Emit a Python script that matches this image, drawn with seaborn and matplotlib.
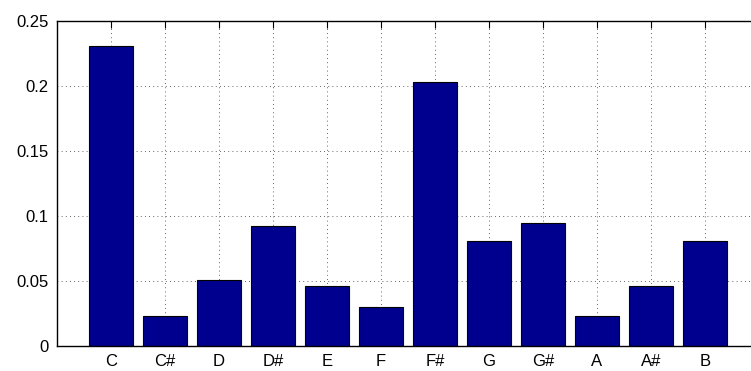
import matplotlib
matplotlib.use("Agg")
import matplotlib.pyplot as plt
import seaborn as sns
import pandas as pd

notes = ["C", "C#", "D", "D#", "E", "F", "F#", "G", "G#", "A", "A#", "B"]
values = [0.2303, 0.0231, 0.0505, 0.0921, 0.0462, 0.030, 0.2026, 0.0808, 0.0944, 0.0231, 0.0462, 0.0808]
yticks = [0, 0.05, 0.1, 0.15, 0.2, 0.25]
yticklabels = ["0", "0.05", "0.1", "0.15", "0.2", "0.25"]

sns.set_style("white")
plt.rcParams['font.family'] = ['Liberation Sans', 'DejaVu Sans']

W, H = 751, 371
fig = plt.figure(figsize=(W / 100, H / 100), dpi=100)
left, right, top, bottom = 57, 57 + 13 * 54, 20.7, 345.7
ax = fig.add_axes([left / W, (H - bottom) / H, (right - left) / W, (bottom - top) / H])

df = pd.DataFrame({"note": notes, "value": values})
sns.barplot(data=df, x="note", y="value", order=notes, color="#00008F",
            saturation=1, width=0.8, edgecolor="black", linewidth=0.8, ax=ax)

ax.set_xlim(-1, 12)
ax.set_ylim(0, 0.25)
ax.set_yticks(yticks)
ax.set_yticklabels(yticklabels)
ax.set_xlabel("")
ax.set_ylabel("")
for s in ax.spines.values():
    s.set_visible(True)
    s.set_color("black")
    s.set_linewidth(1.0)
ax.tick_params(direction="in", length=5, width=0.8, top=True, right=True,
               labelsize=12, colors="black")
ax.tick_params(axis="x", pad=6)
ax.tick_params(axis="y", pad=6)
ax.grid(True, linestyle=(0, (1, 4)), color="black", linewidth=0.6, alpha=0.8)
ax.set_axisbelow(True)

fig.savefig("out.png", dpi=100)
